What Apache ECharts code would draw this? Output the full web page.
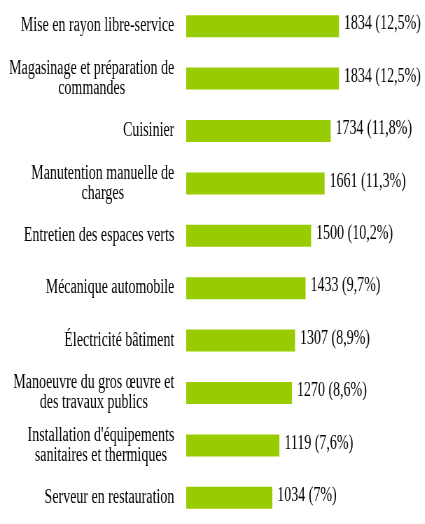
<!DOCTYPE html>
<html>
<head>
<meta charset="utf-8">
<script src="https://cdn.jsdelivr.net/npm/echarts@6/dist/echarts.min.js"></script>
<style>
  html, body { margin: 0; padding: 0; background: #fff; overflow: hidden; }
  /* the source picture is squeezed sideways, so draw wider and compress */
  #chart { width: 607px; height: 524px; transform: scaleX(0.7); transform-origin: 0 0; }
</style>
</head>
<body>
<div id="chart"></div>
<script>
const categories = [
  'Mise en rayon libre-service',
  'Magasinage et préparation de\ncommandes',
  'Cuisinier',
  'Manutention manuelle de\ncharges',
  'Entretien des espaces verts',
  'Mécanique automobile',
  'Électricité bâtiment',
  'Manoeuvre du gros œuvre et\ndes travaux publics',
  "Installation d'équipements\nsanitaires et thermiques",
  'Serveur en restauration'
]
const counts = [1834, 1834, 1734, 1661, 1500, 1433, 1307, 1270, 1119, 1034]
const shares = ['12,5', '12,5', '11,8', '11,3', '10,2', '9,7', '8,9', '8,6', '7,6', '7']

const font = 'Liberation Serif'
const chart = echarts.init(document.getElementById('chart'), null, { renderer: 'canvas' })

const option = {
  animation: false,
  textStyle: { fontFamily: font, fontSize: 20, color: '#000' },
  grid: { left: 266, width: 238, top: -4, height: 547 },
  xAxis: {
    type: 'value',
    min: 0,
    max: 2000,
    show: false
  },
  yAxis: {
    type: 'category',
    inverse: true,
    data: categories,
    axisLine: { show: false },
    axisTick: { show: false },
    axisLabel: {
      margin: 17,
      align: 'right',
      color: '#000',
      fontFamily: font,
      fontSize: 20,
      // each line centred inside the right-aligned block
      formatter: v => v.split('\n').map(l => '{c|' + l + '}').join('\n'),
      rich: {
        c: { align: 'center', fontFamily: font, fontSize: 20, lineHeight: 20, color: '#000' }
      }
    }
  },
  series: [{
    type: 'bar',
    data: counts,
    barWidth: 22,
    itemStyle: { color: '#99cc00' },
    label: {
      show: true,
      position: 'right',
      distance: 7,
      offset: [0, -2],
      color: '#000',
      fontFamily: font,
      fontSize: 20,
      formatter: p => p.value + ' (' + shares[p.dataIndex] + '%)'
    }
  }]
}
chart.setOption(option)
</script>
</body>
</html>
